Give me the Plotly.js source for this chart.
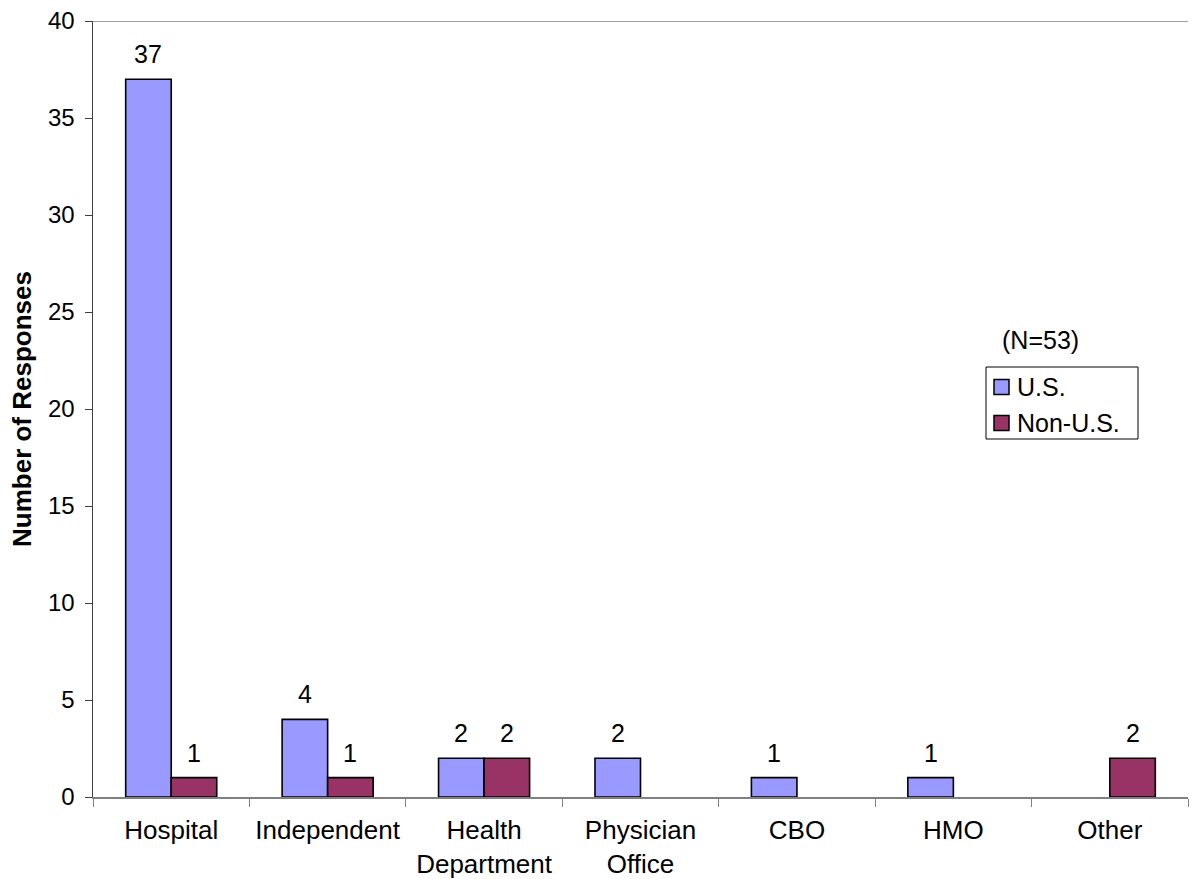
<!DOCTYPE html>
<html>
<head>
<meta charset="utf-8">
<script src="https://cdn.plot.ly/plotly-3.0.1.min.js"></script>
<style>html,body{margin:0;padding:0;background:#fff;}#chart{width:1194px;height:879px;}</style>
</head>
<body>
<div id="chart"></div>
<script>
var categories = ["Hospital", "Independent", "Health<br>Department", "Physician<br>Office", "CBO", "HMO", "Other"];
var usValues = [37, 4, 2, 2, 1, 1, null];
var nonUsValues = [1, 1, 2, null, null, null, 2];
var seriesNames = ["U.S.", "Non-U.S."];
var seriesColors = ["#9999FF", "#993366"];
var yTicks = [0, 5, 10, 15, 20, 25, 30, 35, 40];
var noteText = "(N=53)";

var font = "Arial, 'Liberation Sans', sans-serif";
var M = {l: 93, r: 6, t: 21, b: 82};
var W = 1194, H = 879;
var pw = W - M.l - M.r, ph = H - M.t - M.b;
function px(x) { return (x - M.l) / pw; }
function py(y) { return (H - M.b - y) / ph; }

var allSeries = [usValues, nonUsValues];
var traces = allSeries.map(function (vals, k) {
  return {
    type: "bar", name: seriesNames[k], x: categories, y: vals,
    showlegend: false, hoverinfo: "skip",
    marker: {color: seriesColors[k], line: {color: "#000", width: 1.6}}
  };
});

// value labels above bars
var catW = pw / categories.length;
var barW = catW * (1 - 0.418) / 2;
var annotations = [];
allSeries.forEach(function (vals, k) {
  vals.forEach(function (v, i) {
    if (v == null) return;
    annotations.push({
      xref: "x", yref: "y", x: categories[i], y: v, text: String(v), showarrow: false,
      xanchor: "center", yanchor: "bottom", xshift: (k - 0.5) * barW, yshift: 9,
      font: {family: font, size: 25, color: "#000"}
    });
  });
});
annotations.push({xref: "paper", yref: "paper", x: px(1040), y: py(340), text: noteText, showarrow: false,
  font: {family: font, size: 25, color: "#000"}, xanchor: "center", yanchor: "middle"});

// legend (box, swatches, labels)
var shapes = [
  {type: "line", xref: "paper", yref: "y", x0: 0, x1: 1, y0: 40, y1: 40, line: {color: "#808080", width: 1.5}},
  {type: "rect", xref: "paper", yref: "paper", x0: px(986), x1: px(1138), y0: py(367), y1: py(439),
   line: {color: "#000", width: 1}, fillcolor: "#fff", layer: "above"}
];
var legendRowY = [387, 423];
seriesNames.forEach(function (name, k) {
  shapes.push({type: "rect", xref: "paper", yref: "paper", x0: px(994), x1: px(1009),
    y0: py(legendRowY[k] - 7.5), y1: py(legendRowY[k] + 7.5),
    line: {color: "#000", width: 1.5}, fillcolor: seriesColors[k], layer: "above"});
  annotations.push({xref: "paper", yref: "paper", x: px(1015), y: py(legendRowY[k]), text: name,
    showarrow: false, xanchor: "left", yanchor: "middle", font: {family: font, size: 25, color: "#000"}});
});

var layout = {
  width: W, height: H,
  margin: M,
  paper_bgcolor: "#fff", plot_bgcolor: "#fff",
  font: {family: font, size: 25, color: "#000"},
  barmode: "group", bargap: 0.418, bargroupgap: 0,
  showlegend: false,
  xaxis: {
    type: "category", tickson: "boundaries", ticks: "outside", ticklen: 8,
    tickcolor: "#808080", showline: true, linecolor: "#808080", linewidth: 1.5,
    showgrid: false, tickfont: {family: font, size: 26, color: "#000"},
    ticklabelstandoff: 9,
    automargin: false, fixedrange: true
  },
  yaxis: {
    range: [0, 40], tickvals: yTicks, ticktext: yTicks.map(String),
    ticks: "outside", ticklen: 7, tickcolor: "#404040",
    showline: true, linecolor: "#404040", linewidth: 1.5, showgrid: false, zeroline: false,
    tickfont: {family: font, size: 24, color: "#000"},
    ticklabelstandoff: 5,
    title: {text: "<b>Number of Responses</b>", font: {family: font, size: 26, color: "#000"}, standoff: 9},
    automargin: false, fixedrange: true
  },
  shapes: shapes,
  annotations: annotations
};

Plotly.newPlot("chart", traces, layout, {displayModeBar: false, staticPlot: true});
</script>
</body>
</html>
